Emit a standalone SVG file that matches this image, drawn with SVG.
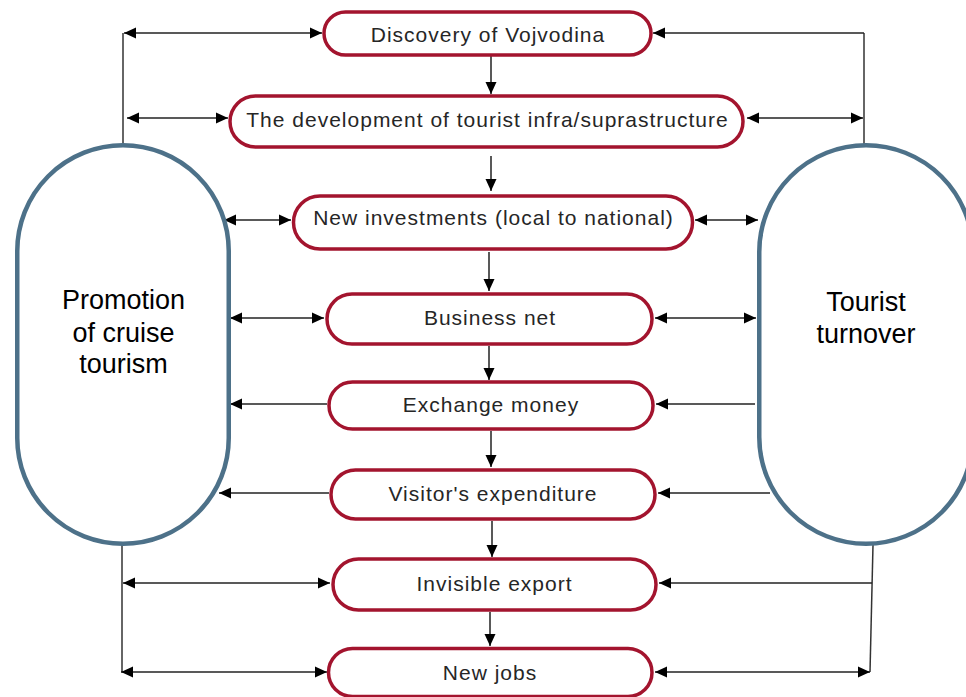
<svg xmlns="http://www.w3.org/2000/svg" width="966" height="697" viewBox="0 0 966 697">
<defs>
<marker id="ah" markerUnits="userSpaceOnUse" markerWidth="12" markerHeight="12" refX="12" refY="6" orient="auto-start-reverse" viewBox="0 0 12 12">
<path d="M0,0.5 L12,6 L0,11.5 z" fill="#000"/>
</marker>
<style>
.step{fill:#fff;stroke:#A3142E;stroke-width:3.5}
.big{fill:#fff;stroke:#4D7189;stroke-width:4.5}
.lbl{font-family:"Liberation Sans",Arial,sans-serif;font-size:21px;letter-spacing:1px;fill:#262626;text-anchor:middle}
.big-lbl{font-family:"Liberation Sans",Arial,sans-serif;font-size:27px;fill:#000;text-anchor:middle}
.c{stroke:#333;stroke-width:1.5;fill:none}
.a{stroke:#222;stroke-width:1.5;fill:none;marker-end:url(#ah)}
.d{stroke:#222;stroke-width:1.5;fill:none;marker-end:url(#ah);marker-start:url(#ah)}
</style>
</defs>
<rect width="966" height="697" fill="#fff"/>

<g id="connectors">
<!-- vertical chain -->
<line class="a" x1="491" y1="56" x2="491" y2="94"/>
<line class="a" x1="491" y1="156" x2="491" y2="191"/>
<line class="a" x1="489" y1="252" x2="489" y2="291"/>
<line class="a" x1="489" y1="346" x2="489" y2="380"/>
<line class="a" x1="491" y1="431" x2="491" y2="467"/>
<line class="a" x1="492" y1="521" x2="492" y2="557"/>
<line class="a" x1="490" y1="612" x2="490" y2="646"/>
<!-- left side -->
<line class="c" x1="123" y1="145" x2="123" y2="33"/>
<line class="d" x1="124" y1="33" x2="322" y2="33"/>
<line class="d" x1="127" y1="118" x2="228" y2="118"/>
<line class="d" x1="224" y1="220" x2="291" y2="220"/>
<line class="d" x1="230" y1="318" x2="324" y2="318"/>
<line class="a" x1="327" y1="404" x2="230" y2="404"/>
<line class="a" x1="329" y1="493" x2="219" y2="493"/>
<line class="c" x1="122" y1="545" x2="122" y2="672"/>
<line class="d" x1="123" y1="583" x2="330" y2="583"/>
<line class="d" x1="121" y1="672" x2="327" y2="672"/>
<!-- right side -->
<line class="c" x1="864" y1="145" x2="864" y2="33"/>
<line class="a" x1="864" y1="33" x2="653" y2="33"/>
<line class="d" x1="747" y1="118" x2="863" y2="118"/>
<line class="d" x1="695" y1="220" x2="758" y2="220"/>
<line class="d" x1="655" y1="318" x2="756" y2="318"/>
<line class="a" x1="755" y1="404" x2="656" y2="404"/>
<line class="a" x1="770" y1="493" x2="658" y2="493"/>
<line class="c" x1="873" y1="545" x2="870" y2="672"/>
<line class="a" x1="872" y1="583" x2="659" y2="583"/>
<line class="d" x1="655" y1="672" x2="870" y2="672"/>
</g>

<g id="promotion">
<rect class="big" x="17.25" y="145.25" width="211.5" height="398.5" rx="105.75"/>
<text class="big-lbl" x="123.5" y="309">Promotion</text>
<text class="big-lbl" x="123.5" y="341.5">of cruise</text>
<text class="big-lbl" x="123.5" y="373">tourism</text>
</g>

<g id="turnover">
<rect class="big" x="759.25" y="145.25" width="213.5" height="398.5" rx="106.75"/>
<text class="big-lbl" x="866" y="310.5">Tourist</text>
<text class="big-lbl" x="866" y="342.5">turnover</text>
</g>

<g id="n1">
<rect class="step" x="324" y="12" width="327" height="43" rx="21.5"/>
<text class="lbl" x="488" y="41.5">Discovery of Vojvodina</text>
</g>
<g id="n2">
<rect class="step" x="230" y="96" width="513" height="51" rx="25.5"/>
<text class="lbl" x="487.5" y="126.5">The development of tourist infra/suprastructure</text>
</g>
<g id="n3">
<rect class="step" x="293.5" y="196" width="399" height="53" rx="26.5"/>
<text class="lbl" x="493.5" y="225">New investments (local to national)</text>
</g>
<g id="n4">
<rect class="step" x="327" y="294" width="325" height="50" rx="25"/>
<text class="lbl" x="490" y="324.5">Business net</text>
</g>
<g id="n5">
<rect class="step" x="329" y="382" width="324" height="47" rx="23.5"/>
<text class="lbl" x="491" y="411.5">Exchange money</text>
</g>
<g id="n6">
<rect class="step" x="331" y="470" width="324" height="49" rx="24.5"/>
<text class="lbl" x="493" y="500.5">Visitor's expenditure</text>
</g>
<g id="n7">
<rect class="step" x="333" y="559" width="323" height="51" rx="25.5"/>
<text class="lbl" x="494.5" y="590.5">Invisible export</text>
</g>
<g id="n8">
<rect class="step" x="328.5" y="648.5" width="323.5" height="48" rx="24"/>
<text class="lbl" x="490" y="680">New jobs</text>
</g>
</svg>
